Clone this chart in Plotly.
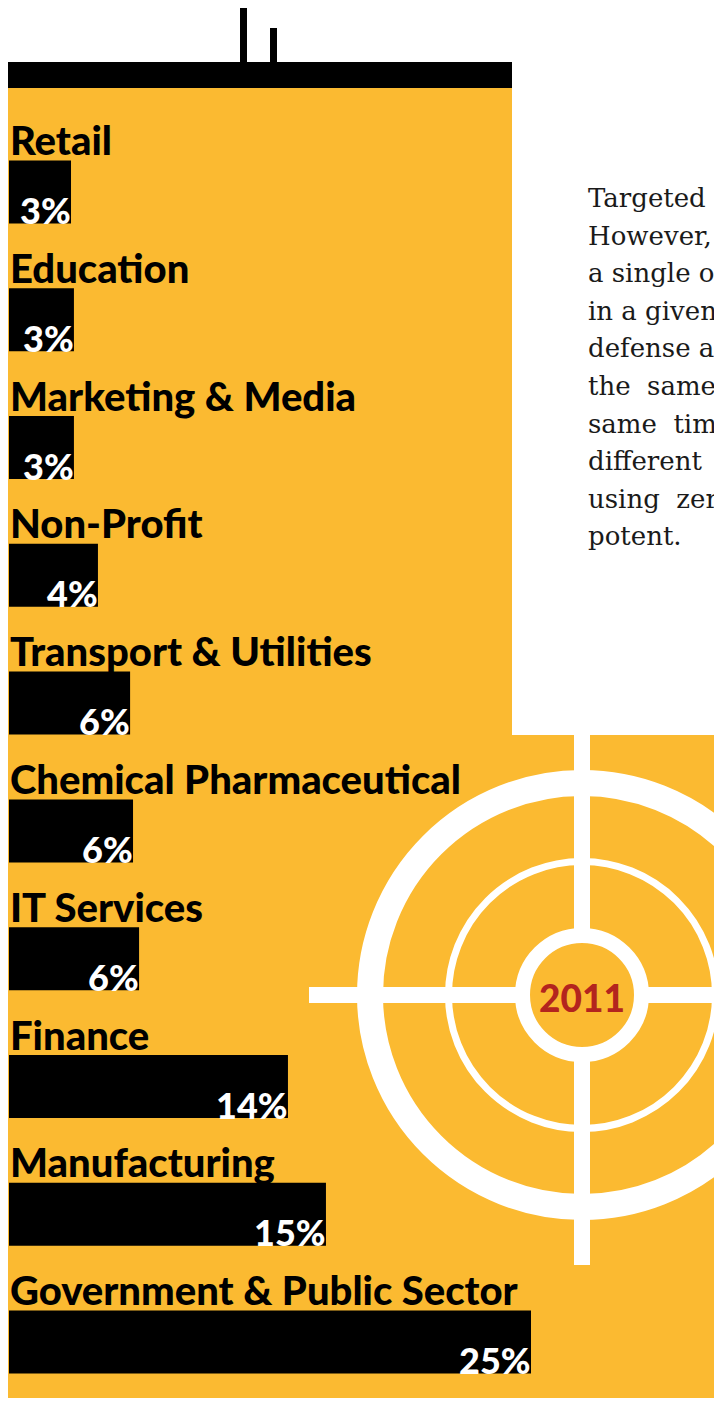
import plotly.graph_objects as go

# data (top to bottom)
sectors = [
    "Retail",
    "Education",
    "Marketing & Media",
    "Non-Profit",
    "Transport & Utilities",
    "Chemical Pharmaceutical",
    "IT Services",
    "Finance",
    "Manufacturing",
    "Government & Public Sector",
]
share = [2.97, 3.11, 3.11, 4.26, 5.80, 5.94, 6.23, 13.36, 15.18, 25.0]
share_labels = ["3%", "3%", "3%", "4%", "6%", "6%", "6%", "14%", "15%", "25%"]
year = "2011"
blurb = [
    "Targeted attacks are nothing new.",
    "However, they are no longer aimed at",
    "a single organization; attackers strike",
    "in a given sector, such as the",
    "defense and aerospace industry,",
    "the  same  sector is hit at the",
    "same  time in many companies, with",
    "different  emails and payloads, often",
    "using  zero-day vulnerabilities that are",
    "potent.",
]

# page body adds an 8px margin, so the figure is drawn 8px in from the corner
OFF = 8
FW, FH = 714, 1390
MT = 128 - OFF
PW, PH = FW, FH - MT
PX_PER_PCT = 20.88
ROW = 127.8
YELLOW = "#FBBA31"
RED = "#B3241E"


def px(x):
    return (x - OFF) / PW


def py(y):
    return (FH - (y - OFF)) / PH


def rect(x0, y0, x1, y1, color):
    return dict(type="rect", xref="paper", yref="paper",
                x0=px(x0), x1=px(x1), y0=py(y1), y1=py(y0),
                fillcolor=color, line=dict(width=0), layer="below")


def ring(cx, cy, r, width):
    return dict(type="circle", xref="paper", yref="paper",
                x0=px(cx - r), x1=px(cx + r), y0=py(cy + r), y1=py(cy - r),
                line=dict(color="white", width=width), layer="below")


fig = go.Figure()
fig.add_trace(
    go.Bar(
        x=share,
        y=sectors,
        orientation="h",
        width=63 / ROW,
        marker=dict(color="black", line=dict(width=0)),
        hoverinfo="skip",
    )
)

shapes = [
    rect(0, 88, 740, 1420, YELLOW),
    rect(512, 80, 740, 735, "white"),
    rect(0, 62, 512, 88, "black"),
    rect(240, 0, 247, 62, "black"),
    rect(270, 28, 277, 62, "black"),
]
# target
cx, cy = 582, 995
shapes += [
    ring(cx, cy, 212, 26),
    ring(cx, cy, 133.5, 7),
    ring(cx, cy, 59.5, 15),
    rect(cx - 8, 735, cx + 8, cy - 62, "white"),
    rect(cx - 8, cy + 62, cx + 8, 1265, "white"),
    rect(309, cy - 8, cx - 62, cy + 8, "white"),
    rect(cx + 62, cy - 8, 740, cy + 8, "white"),
]

annotations = []
for name, val, lab in zip(sectors, share, share_labels):
    annotations.append(dict(
        x=0, y=name, xref="x", yref="y", text=name, showarrow=False,
        xanchor="left", yanchor="bottom", yshift=26, xshift=-1,
        font=dict(family="Lato", size=40, color="black", weight=900),
    ))
    annotations.append(dict(
        x=val, y=name, xref="x", yref="y", text=lab, showarrow=False,
        xanchor="right", yanchor="bottom", yshift=-42, xshift=2,
        font=dict(family="Lato", size=36, color="white", weight=900),
    ))

for i, line in enumerate(blurb):
    annotations.append(dict(
        x=px(586), y=py(198 + i * 37.6), xref="paper", yref="paper",
        text=line, showarrow=False, xanchor="left", yanchor="middle",
        font=dict(family="DejaVu Serif", size=26, color="#1a1a1a"),
    ))

annotations.append(dict(
    x=px(cx), y=py(cy + 2), xref="paper", yref="paper", text=year,
    showarrow=False, xanchor="center", yanchor="middle",
    font=dict(family="Lato", size=37, color=RED, weight=900),
))

fig.update_layout(
    width=FW,
    height=FH,
    margin=dict(l=0, r=0, t=MT, b=0),
    paper_bgcolor="white",
    plot_bgcolor="rgba(0,0,0,0)",
    showlegend=False,
    xaxis=dict(range=[-1 / PX_PER_PCT, (PW - 1) / PX_PER_PCT],
               visible=False, fixedrange=True),
    yaxis=dict(type="category", range=[-0.5 + PH / ROW, -0.5],
               visible=False, fixedrange=True),
    shapes=shapes,
    annotations=annotations,
)

fig.write_html("out.html", config={"displayModeBar": False})
